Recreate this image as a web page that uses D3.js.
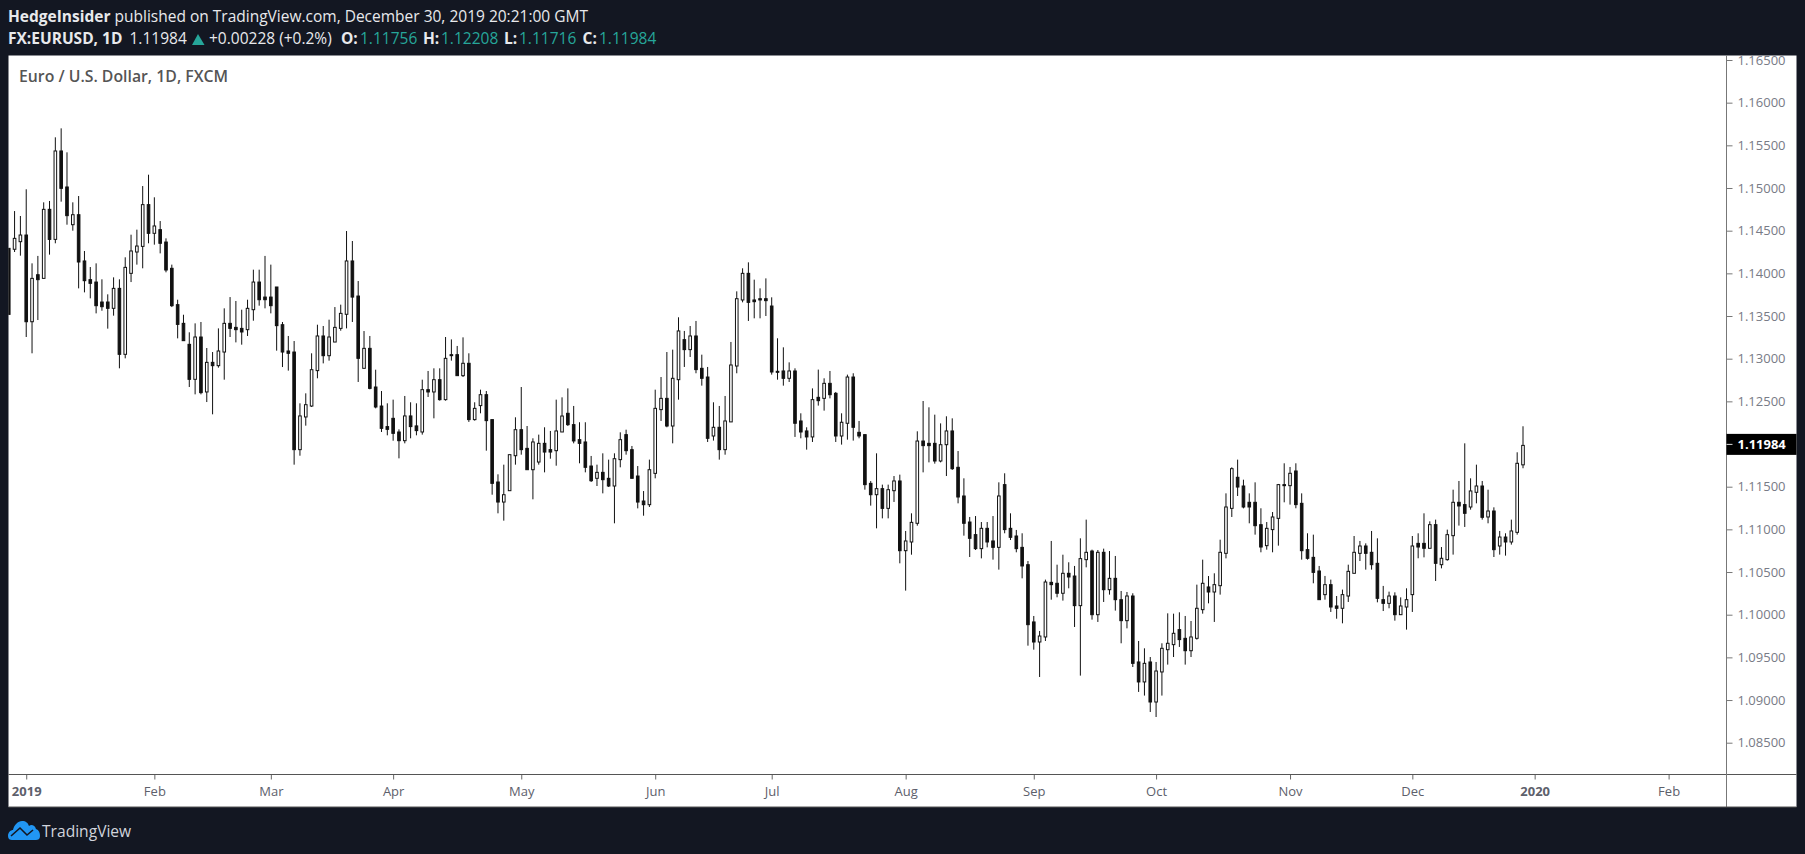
<!DOCTYPE html>
<html>
<head>
<meta charset="utf-8">
<script src="https://cdn.jsdelivr.net/npm/d3@7"></script>
<style>
  html, body { margin: 0; padding: 0; background: #131722; overflow: hidden; }
  svg { display: block; }
  text { font-family: "Open Sans", sans-serif; }
</style>
</head>
<body>
<script>
// EUR/USD daily bars, last three of Dec 2018 through Dec 30 2019
const high = [1.14293,1.14730,1.14672,
  1.14985,1.14117,1.14204,1.14832,1.14848,1.15594,1.15699,1.15418,1.14832,1.14906,
  1.14262,1.14074,1.14117,1.13930,1.13754,1.13953,1.13930,1.14188,1.14453,1.14512,
  1.15023,1.15156,1.14891,1.14613,1.14410,1.14102,1.13691,1.13515,1.13309,1.13414,
  1.13430,1.13125,1.13078,1.13355,1.13590,1.13722,1.13676,1.13574,1.13691,1.14043,
  1.14043,1.14204,1.14102,1.13840,1.13430,1.13266,1.13207,1.12477,1.12594,1.13063,
  1.13398,1.13383,1.13457,1.13605,1.13633,1.14496,1.14379,1.13910,1.13324,1.13266,
  1.12871,1.12621,1.12477,1.12520,1.12172,1.12563,1.12489,1.12477,1.12754,1.12856,
  1.12887,1.12887,1.13254,1.13226,1.13149,1.13250,1.13063,1.12489,1.12637,1.12621,
  1.12286,1.11645,1.11758,1.11875,1.12313,1.12668,1.12211,1.12067,1.12110,1.12196,
  1.12153,1.12520,1.12547,1.12652,1.12446,1.12255,1.12255,1.11860,1.11758,1.11891,
  1.11817,1.11891,1.12137,1.12168,1.11977,1.11742,1.11449,1.11817,1.12637,1.12785,
  1.13078,1.13106,1.13485,1.13325,1.13383,1.13442,1.13047,1.12903,1.12489,1.12446,
  1.12563,1.13196,1.13789,1.14059,1.14129,1.13926,1.13824,1.13941,1.13719,1.13239,
  1.13133,1.12957,1.12887,1.12360,1.12196,1.12652,1.12872,1.12770,1.12856,1.12610,
  1.12360,1.12813,1.12829,1.12270,1.12110,1.11566,1.11891,1.11524,1.11524,1.11625,
  1.11641,1.10981,1.11188,1.12149,1.12504,1.12430,1.12344,1.12242,1.12325,1.12301,
  1.11918,1.11598,1.11145,1.11156,1.11086,1.11086,1.11156,1.11551,1.11657,1.11188,
  1.10993,1.10954,1.10629,1.09985,1.09809,1.10411,1.10864,1.10586,1.10703,1.10614,
  1.10571,1.10895,1.11114,1.10762,1.10758,1.10774,1.10746,1.10688,1.10278,1.10266,
  1.10251,1.09692,1.09606,1.09504,1.09446,1.09665,1.10016,1.10012,1.10028,1.09985,
  1.09926,1.10352,1.10645,1.10453,1.10485,1.10879,1.11422,1.11727,1.11817,1.11582,
  1.11422,1.11551,1.11247,1.11086,1.11203,1.11532,1.11774,1.11731,1.11774,1.11422,
  1.10954,1.10938,1.10571,1.10454,1.10411,1.10219,1.10294,1.10586,1.10922,1.10864,
  1.10836,1.10981,1.10895,1.10337,1.10270,1.10262,1.10203,1.10309,1.10922,1.10954,
  1.11188,1.11094,1.11114,1.10793,1.10997,1.11465,1.11567,1.12008,1.11598,1.11758,
  1.11567,1.11465,1.11258,1.10981,1.10954,1.11114,1.11903,1.12208];

const low = [1.13519,1.14250,1.14207,
  1.13254,1.13063,1.13453,1.13941,1.14219,1.14352,1.14840,1.14570,1.14500,1.13824,
  1.13777,1.13707,1.13531,1.13562,1.13352,1.13504,1.12887,1.13004,1.13898,1.14102,
  1.14059,1.14352,1.14336,1.14234,1.14012,1.13605,1.13238,1.13211,1.12668,1.12582,
  1.12582,1.12492,1.12348,1.12895,1.12754,1.13254,1.13191,1.13164,1.13266,1.13445,
  1.13621,1.13590,1.13531,1.13094,1.12902,1.12860,1.11758,1.11863,1.12215,1.12434,
  1.12770,1.12945,1.12977,1.13195,1.13328,1.13355,1.13430,1.12727,1.12887,1.12641,
  1.12418,1.12141,1.12102,1.12039,1.11832,1.12008,1.12067,1.12102,1.12110,1.12551,
  1.12301,1.12508,1.12508,1.12977,1.12801,1.12785,1.12259,1.12274,1.12360,1.11922,
  1.11406,1.11188,1.11102,1.11453,1.11758,1.11875,1.11699,1.11352,1.11758,1.11668,
  1.11828,1.11746,1.12141,1.12211,1.12008,1.11774,1.11668,1.11555,1.11508,1.11422,
  1.11496,1.11071,1.11727,1.11875,1.11598,1.11246,1.11160,1.11262,1.11598,1.12270,
  1.12196,1.12008,1.12520,1.12903,1.13020,1.12829,1.12684,1.12024,1.12040,1.11817,
  1.11875,1.12259,1.12829,1.13660,1.13442,1.13473,1.13473,1.13500,1.12813,1.12754,
  1.12684,1.12727,1.12083,1.12067,1.11934,1.12024,1.12450,1.12391,1.12535,1.12024,
  1.11993,1.12051,1.12040,1.12067,1.11465,1.11278,1.11012,1.11129,1.11129,1.11321,
  1.10602,1.10282,1.10703,1.11043,1.11668,1.11785,1.11770,1.11785,1.11625,1.11696,
  1.11305,1.10926,1.10676,1.10758,1.10660,1.10789,1.10645,1.10528,1.10954,1.10875,
  1.10731,1.10426,1.09637,1.09590,1.09270,1.09692,1.10176,1.10204,1.10165,1.10309,
  1.09856,1.09286,1.10555,1.09942,1.09915,1.10149,1.10235,1.10048,1.09665,1.09840,
  1.09387,1.09095,1.09052,1.08860,1.08801,1.09052,1.09415,1.09504,1.09622,1.09415,
  1.09504,1.09708,1.10012,1.10133,1.09915,1.10235,1.10660,1.11145,1.11391,1.11246,
  1.11071,1.10938,1.10731,1.10762,1.10731,1.10809,1.11317,1.11290,1.11247,1.10645,
  1.10645,1.10368,1.10176,1.10176,1.10032,1.09953,1.09899,1.10149,1.10485,1.10629,
  1.10528,1.10528,1.10145,1.10043,1.10075,1.09930,1.10000,1.09825,1.10032,1.10661,
  1.10672,1.10778,1.10395,1.10543,1.10633,1.10704,1.11044,1.11028,1.11231,1.11305,
  1.11114,1.11071,1.10676,1.10704,1.10692,1.10821,1.10938,1.11716];

const open = [1.14293,1.14282,1.14371,
  1.14449,1.13433,1.13984,1.13941,1.14750,1.14398,1.15434,1.15012,1.14570,1.14687,
  1.14145,1.13926,1.13898,1.13664,1.13664,1.13590,1.13824,1.13051,1.14000,1.14250,
  1.14316,1.14805,1.14469,1.14512,1.14367,1.14059,1.13633,1.13414,1.13168,1.12758,
  1.13254,1.12610,1.12957,1.12918,1.13078,1.13414,1.13367,1.13355,1.13340,1.13574,
  1.13898,1.13722,1.13722,1.13840,1.13398,1.13090,1.13078,1.11934,1.12317,1.12445,
  1.12860,1.13266,1.13035,1.13195,1.13355,1.13520,1.14145,1.13734,1.12887,1.13121,
  1.12668,1.12445,1.12204,1.12301,1.12141,1.12039,1.12329,1.12212,1.12141,1.12637,
  1.12610,1.12754,1.12520,1.13047,1.13047,1.12801,1.12946,1.12286,1.12450,1.12578,
  1.12286,1.11555,1.11320,1.11453,1.11863,1.12168,1.11949,1.11699,1.11789,1.12008,
  1.11934,1.11922,1.12141,1.12360,1.12227,1.12051,1.12024,1.11742,1.11598,1.11668,
  1.11598,1.11508,1.11817,1.12110,1.11934,1.11625,1.11332,1.11289,1.11656,1.12403,
  1.12535,1.12211,1.12754,1.13223,1.13106,1.13266,1.12887,1.12785,1.12094,1.12196,
  1.11934,1.12259,1.12914,1.13688,1.14000,1.13688,1.13703,1.13703,1.13617,1.12852,
  1.12856,1.12770,1.12856,1.12270,1.12153,1.12083,1.12547,1.12535,1.12711,1.12594,
  1.12094,1.12243,1.12785,1.12137,1.12110,1.11539,1.11406,1.11477,1.11246,1.11453,
  1.11567,1.10750,1.10852,1.11071,1.12035,1.12008,1.12008,1.11801,1.11992,1.12153,
  1.11727,1.11391,1.11086,1.10938,1.10774,1.11012,1.10864,1.10789,1.11524,1.11012,
  1.10922,1.10789,1.10586,1.09915,1.09680,1.09739,1.10379,1.10368,1.10251,1.10485,
  1.10453,1.10106,1.10645,1.10746,1.10000,1.10731,1.10293,1.10426,1.10176,1.09930,
  1.10219,1.09446,1.09212,1.09446,1.08977,1.09329,1.09590,1.09649,1.09825,1.09723,
  1.09578,1.09723,1.10059,1.10325,1.10266,1.10340,1.10719,1.11246,1.11610,1.11508,
  1.11317,1.11317,1.11055,1.10809,1.10997,1.11129,1.11524,1.11512,1.11684,1.11305,
  1.10762,1.10672,1.10512,1.10235,1.10352,1.10102,1.10075,1.10219,1.10485,1.10719,
  1.10805,1.10731,1.10602,1.10176,1.10133,1.10219,1.10000,1.10090,1.10235,1.10836,
  1.10836,1.10778,1.11055,1.10586,1.10645,1.10926,1.11317,1.11290,1.11262,1.11434,
  1.11508,1.11145,1.11215,1.10805,1.10910,1.10852,1.10965,1.11756];

const close = [1.13519,1.14410,1.14449,
  1.13433,1.13941,1.13926,1.14750,1.14398,1.15434,1.14996,1.14676,1.14687,1.14133,
  1.13914,1.13883,1.13621,1.13609,1.13590,1.13824,1.13051,1.14070,1.14262,1.14320,
  1.14805,1.14469,1.14555,1.14352,1.14039,1.13621,1.13402,1.13211,1.12758,1.13254,
  1.12602,1.12957,1.12918,1.13090,1.13414,1.13355,1.13340,1.13313,1.13590,1.13898,
  1.13691,1.13691,1.13621,1.13387,1.13078,1.13063,1.11934,1.12329,1.12461,1.12871,
  1.13266,1.13035,1.13254,1.13367,1.13531,1.14145,1.13722,1.13004,1.13121,1.12652,
  1.12434,1.12184,1.12172,1.12125,1.12039,1.12329,1.12204,1.12157,1.12637,1.12610,
  1.12754,1.12520,1.13004,1.13036,1.12801,1.12946,1.12286,1.12418,1.12578,1.12274,
  1.11539,1.11320,1.11406,1.11875,1.12168,1.11934,1.11699,1.12024,1.12008,1.11906,
  1.11906,1.12153,1.12328,1.12227,1.12036,1.12008,1.11727,1.11570,1.11668,1.11582,
  1.11508,1.11828,1.12051,1.11922,1.11598,1.11320,1.11289,1.11699,1.12418,1.12535,
  1.12211,1.12770,1.13325,1.13106,1.13266,1.12872,1.12770,1.12067,1.12196,1.11934,
  1.12270,1.12926,1.13703,1.14000,1.13660,1.13668,1.13688,1.13680,1.12844,1.12844,
  1.12770,1.12856,1.12243,1.12141,1.12083,1.12520,1.12508,1.12711,1.12578,1.12094,
  1.12255,1.12785,1.12196,1.12094,1.11524,1.11406,1.11477,1.11246,1.11465,1.11567,
  1.10750,1.10864,1.11082,1.12035,1.11981,1.11981,1.11801,1.11992,1.12153,1.11711,
  1.11379,1.11071,1.10895,1.10774,1.11012,1.10852,1.10789,1.11391,1.10997,1.10907,
  1.10774,1.10571,1.09883,1.09680,1.09750,1.10383,1.10352,1.10251,1.10485,1.10442,
  1.10106,1.10657,1.10731,1.10000,1.10731,1.10293,1.10426,1.10176,1.09930,1.10219,
  1.09430,1.09212,1.09430,1.08977,1.09340,1.09606,1.09665,1.09782,1.09708,1.09578,
  1.09739,1.10075,1.10368,1.10266,1.10352,1.10731,1.11262,1.11711,1.11496,1.11262,
  1.11262,1.11043,1.10793,1.11012,1.11145,1.11524,1.11512,1.11657,1.11290,1.10750,
  1.10661,1.10496,1.10176,1.10352,1.10090,1.10075,1.10235,1.10508,1.10731,1.10805,
  1.10719,1.10586,1.10192,1.10133,1.10219,1.10000,1.10102,1.10176,1.10805,1.10793,
  1.10778,1.11055,1.10602,1.10661,1.10938,1.11317,1.11274,1.11188,1.11450,1.11508,
  1.11141,1.11215,1.10762,1.10910,1.10852,1.10981,1.11774,1.11984];

const priceTicks = [1.165,1.16,1.155,1.15,1.145,1.14,1.135,1.13,1.125,1.12,1.115,1.11,1.105,1.1,1.095,1.09,1.085];
const timeLabels = ["2019","Feb","Mar","Apr","May","Jun","Jul","Aug","Sep","Oct","Nov","Dec","2020","Feb"];
const timeBars = [3,25,45,66,88,111,131,154,176,197,220,241,262,285];
const yearLabels = ["2019","2020"];

const width = 1805, height = 854;
const plot = { left: 8.5, right: 1726.5, top: 55.5, bottom: 774.5, outer: 1796.5, end: 807 };

const svg = d3.select("body").append("svg")
  .attr("width", width)
  .attr("height", height);

// white panel
svg.append("rect")
  .attr("x", plot.left)
  .attr("y", plot.top)
  .attr("width", plot.outer - plot.left)
  .attr("height", plot.end - plot.top)
  .attr("fill", "#fff");

const x = d3.scaleLinear().domain([0, 260]).range([8.75, 1523]);
const y = d3.scaleLinear().domain([1.165, 1.085]).range([60, 742.7]);

svg.append("clipPath").attr("id", "plot-clip")
  .append("rect")
  .attr("x", plot.left)
  .attr("y", plot.top)
  .attr("width", plot.right - plot.left)
  .attr("height", plot.bottom - plot.top);

const candles = svg.append("g").attr("clip-path", "url(#plot-clip)");
const bars = d3.range(high.length);

candles.selectAll("line.wick")
  .data(bars)
  .enter()
  .append("line")
  .attr("class", "wick")
  .attr("x1", (d) => x(d))
  .attr("x2", (d) => x(d))
  .attr("y1", (d) => y(high[d]))
  .attr("y2", (d) => y(low[d]))
  .attr("stroke", "#111")
  .attr("stroke-width", 1);

candles.selectAll("rect.body")
  .data(bars)
  .enter()
  .append("rect")
  .attr("class", "body")
  .attr("x", (d) => x(d) - 1.3)
  .attr("y", (d) => y(Math.max(open[d], close[d])))
  .attr("width", 2.6)
  .attr("height", (d) => Math.max(1, Math.abs(y(open[d]) - y(close[d]))))
  .attr("fill", (d) => close[d] >= open[d] ? "#fff" : "#111")
  .attr("stroke", "#111")
  .attr("stroke-width", 1);

// axes
const priceAxis = svg.append("g")
  .attr("transform", `translate(${plot.right},0)`)
  .call(d3.axisRight(y).tickValues(priceTicks).tickFormat(d3.format(".5f")).tickSize(6).tickPadding(5));
priceAxis.select(".domain").remove();
priceAxis.selectAll("line").attr("stroke", "#777");
priceAxis.selectAll("text")
  .attr("fill", "#787b86")
  .style("font-size", "13px");

const timeAxis = svg.append("g")
  .attr("transform", `translate(0,${plot.bottom})`)
  .call(d3.axisBottom(x).tickValues(timeBars).tickFormat((d, i) => timeLabels[i]).tickSize(5).tickPadding(7));
timeAxis.select(".domain").remove();
timeAxis.selectAll("line").attr("stroke", "#666");
timeAxis.selectAll("text")
  .attr("fill", "#5d606b")
  .style("font-size", "13px")
  .style("font-weight", (d, i) => yearLabels.includes(timeLabels[i]) ? "700" : "400");

svg.append("line")
  .attr("x1", plot.left).attr("x2", plot.outer)
  .attr("y1", plot.bottom).attr("y2", plot.bottom)
  .attr("stroke", "#555");
svg.append("line")
  .attr("x1", plot.right).attr("x2", plot.right)
  .attr("y1", plot.top).attr("y2", plot.end)
  .attr("stroke", "#777");
svg.append("line")
  .attr("x1", plot.left).attr("x2", plot.outer)
  .attr("y1", plot.end).attr("y2", plot.end)
  .attr("stroke", "#555");

// last price tag
const lastClose = close[close.length - 1];
const tag = svg.append("g").attr("transform", `translate(${plot.right},${y(lastClose) - 1})`);
tag.append("rect")
  .attr("x", 0).attr("y", -10.5)
  .attr("width", plot.outer - plot.right).attr("height", 21)
  .attr("fill", "#000");
tag.append("line")
  .attr("x1", 0).attr("x2", 6)
  .attr("stroke", "#ddd");
tag.append("text")
  .attr("x", 11).attr("dy", "0.34em")
  .attr("fill", "#fff")
  .style("font-size", "13px")
  .style("font-weight", "700")
  .text(d3.format(".5f")(lastClose));

// title inside the panel
svg.append("text")
  .attr("x", 19).attr("y", 82)
  .attr("fill", "#555")
  .style("font-size", "15.8px")
  .style("font-weight", "600")
  .text("Euro / U.S. Dollar, 1D, FXCM");

// header
const light = "#e8e9ec", teal = "#26a69a";
const line1 = svg.append("text").attr("x", 8).attr("y", 22).attr("fill", light).style("font-size", "15.5px");
line1.append("tspan").style("font-weight", "700").text("HedgeInsider");
line1.append("tspan").text(" published on TradingView.com, December 30, 2019 20:21:00 GMT");

const headerParts = [
  { text: "FX:EURUSD, 1D", left: 8, bold: true, color: light },
  { text: "1.11984", left: 129.5, bold: false, color: light },
  { text: "+0.00228 (+0.2%)", left: 209, bold: false, color: light },
  { text: "O:", left: 341, bold: true, color: light },
  { text: "1.11756", left: 360, bold: false, color: teal },
  { text: "H:", left: 423, bold: true, color: light },
  { text: "1.12208", left: 441, bold: false, color: teal },
  { text: "L:", left: 504, bold: true, color: light },
  { text: "1.11716", left: 519, bold: false, color: teal },
  { text: "C:", left: 582.5, bold: true, color: light },
  { text: "1.11984", left: 599, bold: false, color: teal }
];
svg.selectAll("text.head")
  .data(headerParts)
  .enter()
  .append("text")
  .attr("class", "head")
  .attr("x", (d) => d.left)
  .attr("y", 44)
  .attr("fill", (d) => d.color)
  .style("font-size", "15.5px")
  .style("font-weight", (d) => d.bold ? "700" : "400")
  .text((d) => d.text);

svg.append("path")
  .attr("d", "M192 45 L198 34 L204.5 45 Z")
  .attr("fill", teal);

// footer logo
svg.append("path")
  .attr("d", "M8 836 C8 832 11 830 13 830 C14 825 18 821 22 821 C26 821 28 823 29 826 C31 824 35 825 36 829 C39 830 40 833 40 836 C40 839 38 840 36 840 L12 840 C10 840 8 839 8 836 Z")
  .attr("fill", "#2196f3");
svg.append("path")
  .attr("d", "M11 836 L20 828 L27 835 L33 830")
  .attr("fill", "none")
  .attr("stroke", "#131722")
  .attr("stroke-width", 1.6);
svg.append("text")
  .attr("x", 42).attr("y", 837)
  .attr("fill", "#d1d4dc")
  .style("font-size", "15.6px")
  .text("TradingView");
</script>
</body>
</html>
